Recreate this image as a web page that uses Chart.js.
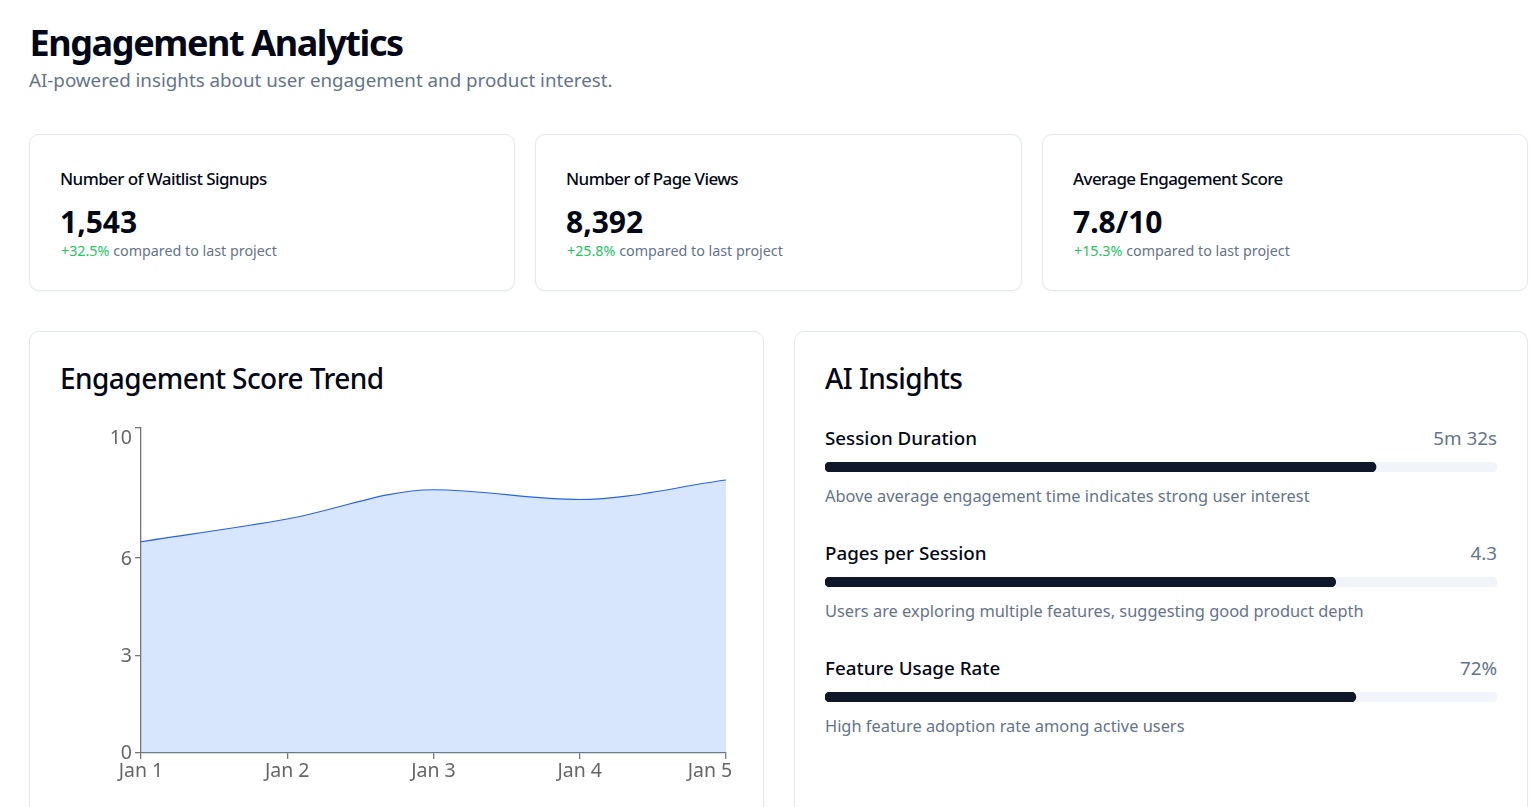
<!DOCTYPE html>
<html>
<head>
<meta charset="utf-8">
<title>Engagement Analytics</title>
<script src="https://cdn.jsdelivr.net/npm/chart.js@4"></script>
<style>
* { box-sizing: border-box; }
html, body { margin: 0; height: 100%; overflow: hidden; background: #fff; }
body { font-family: "Noto Sans", sans-serif; color: #020817; width: 1538px; height: 807px; position: relative; }
h1 { position: absolute; left: 29.5px; top: 18px; margin: 0; font-size: 36px; line-height: 50px; font-weight: 700; letter-spacing: -1.4px; }
.sub { position: absolute; left: 29px; top: 66px; font-size: 18.75px; line-height: 28px; color: #64748b; }
.card { position: absolute; background: #fff; border: 1px solid #e2e8f0; border-radius: 10px; box-shadow: 0 1px 2px rgba(0,0,0,.04); }
.stat { top: 134px; height: 157px; }
.stat .lab { position: absolute; left: 30px; top: 32px; font-size: 17px; line-height: 24px; letter-spacing: -.6px; font-weight: 500; }
.stat .val { position: absolute; left: 30px; top: 68px; font-size: 30px; line-height: 38px; font-weight: 700; }
.stat .chg { position: absolute; left: 31px; top: 105px; font-size: 14.3px; line-height: 22px; color: #64748b; }
.stat .chg b { font-weight: 400; color: #22c55e; }
.big { top: 331px; height: 520px; }
.big h2 { position: absolute; left: 30px; top: 24px; margin: 0; font-size: 28px; line-height: 44px; font-weight: 500; letter-spacing: -.55px; white-space: nowrap; }
#trend { position: absolute; left: 31px; top: 86px; }
.row { position: absolute; left: 30px; width: 672px; height: 90px; }
.row .nm { position: absolute; left: 0; top: 0; font-size: 18.8px; line-height: 26px; font-weight: 500; }
.row .rv { position: absolute; right: 0; top: 0; font-size: 18.8px; line-height: 26px; color: #64748b; }
.row canvas { position: absolute; left: 0; top: 37px; }
.row .nt { position: absolute; left: 0; top: 58px; font-size: 16.4px; line-height: 26px; color: #64748b; white-space: nowrap; }
</style>
</head>
<body>
<h1>Engagement Analytics</h1>
<div class="sub">AI-powered insights about user engagement and product interest.</div>

<div id="stats"></div>

<div class="card big" style="left:29px;width:735px">
  <h2>Engagement Score Trend</h2>
  <canvas id="trend" width="672" height="372" style="width:672px;height:372px"></canvas>
</div>
<div class="card big" id="insights" style="left:794px;width:734px">
  <h2>AI Insights</h2>
</div>

<script>
// stat cards
const stat_labels = ["Number of Waitlist Signups", "Number of Page Views", "Average Engagement Score"];
const stat_values = ["1,543", "8,392", "7.8/10"];
const stat_changes = ["+32.5%", "+25.8%", "+15.3%"];
const stat_lefts = [29, 535, 1042];
const stat_widths = [486, 487, 486];

// trend chart
const days = ["Jan 1", "Jan 2", "Jan 3", "Jan 4", "Jan 5"];
const scores = [6.5, 7.2, 8.1, 7.8, 8.4];
const score_ticks = [0, 3, 6, 10];

// insights
const insight_names = ["Session Duration", "Pages per Session", "Feature Usage Rate"];
const insight_values = ["5m 32s", "4.3", "72%"];
const insight_percent = [82, 76, 79];
const insight_notes = [
    "Above average engagement time indicates strong user interest",
    "Users are exploring multiple features, suggesting good product depth",
    "High feature adoption rate among active users"
];

const stats = document.getElementById("stats");
stat_labels.forEach((label, i) => {
    const card = document.createElement("div");
    card.className = "card stat";
    card.style.left = stat_lefts[i] + "px";
    card.style.width = stat_widths[i] + "px";
    card.innerHTML = '<div class="lab">' + label + '</div><div class="val">' + stat_values[i] +
        '</div><div class="chg"><b>' + stat_changes[i] + '</b> compared to last project</div>';
    stats.appendChild(card);
});

Chart.defaults.font.family = '"Noto Sans", sans-serif';
Chart.defaults.animation = false;
Chart.defaults.responsive = false;

// the first/last tick labels sit inside the plot, like in the original axis
const nudge_edge_labels = {
    id: "nudge_edge_labels",
    beforeDraw(chart) {
        const y_items = chart.scales.y.getLabelItems(chart.chartArea);
        y_items.forEach((item) => {
            if (item.label === "10") item.options.translation[1] += 10;
            else if (item.label !== "0") item.options.translation[1] += 1;
        });
        const x_items = chart.scales.x.getLabelItems(chart.chartArea);
        x_items.forEach((item) => {
            if (item.label === "Jan 5") item.options.translation[0] -= 16;
        });
    }
};

new Chart(document.getElementById("trend"), {
    type: "line",
    plugins: [nudge_edge_labels],
    data: {
        labels: days,
        datasets: [{
            data: scores,
            borderColor: "#2563eb",
            borderWidth: 1.1,
            backgroundColor: "rgba(59,130,246,0.2)",
            fill: "origin",
            cubicInterpolationMode: "monotone",
            pointRadius: 0
        }]
    },
    options: {
        layout: { padding: { top: 10, right: 7 } },
        plugins: { legend: { display: false }, tooltip: { enabled: false } },
        scales: {
            x: {
                offset: false,
                afterFit: (scale) => { scale.height = 37; scale.paddingLeft = 0; scale.paddingRight = 0; },
                grid: { drawOnChartArea: false, tickLength: 6, color: "#777", lineWidth: 1.3 },
                border: { color: "#777", width: 1.3 },
                ticks: { color: "#666", font: { size: 19.5 }, padding: 1, maxRotation: 0, autoSkip: false }
            },
            y: {
                min: 0,
                max: 10,
                afterFit: (scale) => { scale.width = 80; scale.paddingTop = 0; scale.paddingBottom = 0; },
                afterBuildTicks: (scale) => { scale.ticks = score_ticks.map((v) => ({ value: v })); },
                grid: { drawOnChartArea: false, tickLength: 6, color: "#777", lineWidth: 1.3 },
                border: { color: "#777", width: 1.3 },
                ticks: { color: "#666", font: { size: 19.5 }, padding: 3 }
            }
        }
    }
});

const build_progress = (canvas, percent) => {
    new Chart(canvas, {
        type: "bar",
        data: {
            labels: [""],
            datasets: [
                { data: [percent], backgroundColor: "#0f172a", borderRadius: 5, borderSkipped: false, barThickness: 10 },
                { data: [100], backgroundColor: "#f1f5f9", borderRadius: 5, borderSkipped: false, barThickness: 10 }
            ]
        },
        options: {
            indexAxis: "y",
            datasets: { bar: { grouped: false } },
            plugins: { legend: { display: false }, tooltip: { enabled: false } },
            scales: {
                x: { display: false, min: 0, max: 100 },
                y: { display: false }
            }
        }
    });
};

const insights = document.getElementById("insights");
insight_names.forEach((name, i) => {
    const row = document.createElement("div");
    row.className = "row";
    row.style.top = (93 + i * 115) + "px";
    row.innerHTML = '<div class="nm">' + name + '</div><div class="rv">' + insight_values[i] +
        '</div><canvas width="672" height="10" style="width:672px;height:10px"></canvas><div class="nt">' + insight_notes[i] + '</div>';
    insights.appendChild(row);
    build_progress(row.querySelector("canvas"), insight_percent[i]);
});
</script>
</body>
</html>
